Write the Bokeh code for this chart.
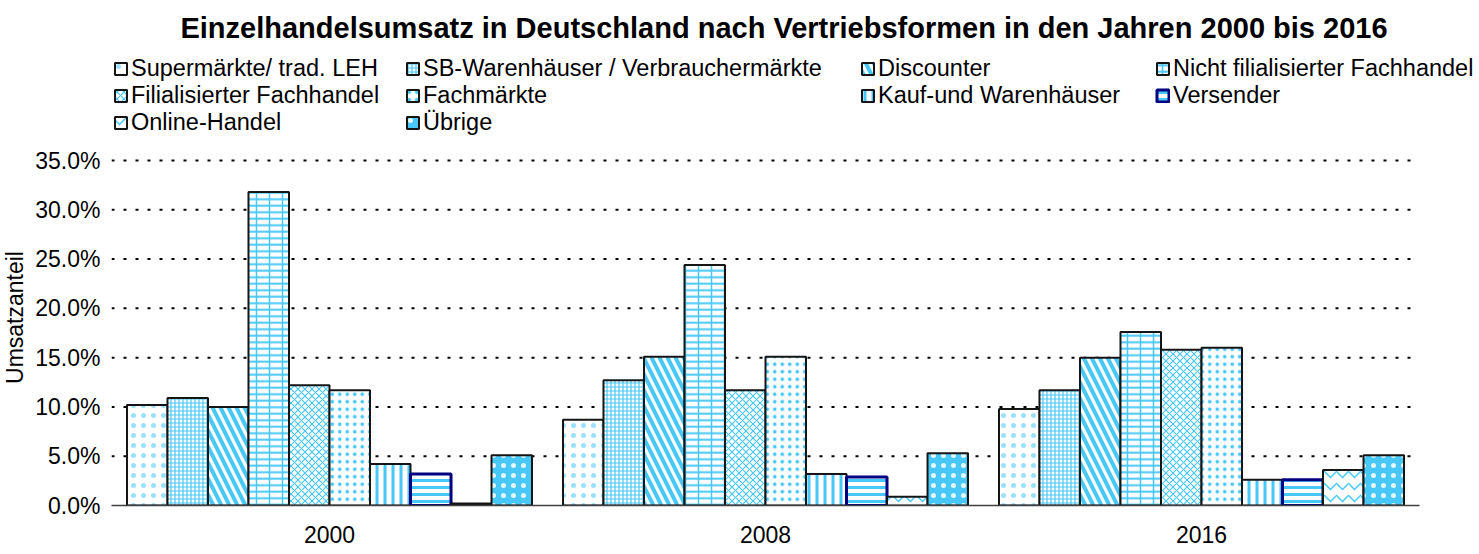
import math
from bokeh.plotting import figure
from bokeh.layouts import row
from bokeh.models import (Range1d, Legend, LegendItem, Label, NumeralTickFormatter,
                          FixedTicker, ColumnDataSource)
from bokeh.transform import dodge
from bokeh.embed import file_html
from bokeh.resources import INLINE

# ---------------- data ----------------
years = ["2000", "2008", "2016"]
series_names = [
    "Supermärkte/ trad. LEH",
    "SB-Warenhäuser / Verbrauchermärkte",
    "Discounter",
    "Nicht filialisierter Fachhandel",
    "Filialisierter Fachhandel",
    "Fachmärkte",
    "Kauf-und Warenhäuser",
    "Versender",
    "Online-Handel",
    "Übrige",
]
supermaerkte = [0.102, 0.087, 0.098]
sb_warenhaeuser = [0.109, 0.127, 0.117]
discounter = [0.100, 0.151, 0.150]
nicht_filialisiert = [0.318, 0.244, 0.176]
filialisiert = [0.122, 0.117, 0.158]
fachmaerkte = [0.117, 0.151, 0.160]
kauf_warenhaeuser = [0.042, 0.032, 0.026]
versender = [0.032, 0.029, 0.026]
online_handel = [0.002, 0.009, 0.036]
uebrige = [0.051, 0.053, 0.051]
y_ticks = [0.0, 0.05, 0.10, 0.15, 0.20, 0.25, 0.30, 0.35]
title_text = "Einzelhandelsumsatz in Deutschland nach Vertriebsformen in den Jahren 2000 bis 2016"
y_label = "Umsatzanteil"

all_values = [supermaerkte, sb_warenhaeuser, discounter, nicht_filialisiert,
              filialisiert, fachmaerkte, kauf_warenhaeuser, versender,
              online_handel, uebrige]

# ---------------- styling ----------------
BLUE = "#48C7F9"
FONT = "Liberation Sans"
styles = [
    dict(fill_color="white", hatch_pattern=".", hatch_scale=10, hatch_alpha=0.55, hatch_color=BLUE),
    dict(fill_color="white", hatch_pattern="+", hatch_scale=4, hatch_weight=1.2, hatch_color=BLUE),
    dict(fill_color="white", hatch_pattern="\\", hatch_scale=16, hatch_weight=4, hatch_color=BLUE),
    dict(fill_color="white", hatch_pattern="-", hatch_scale=6.5, hatch_weight=2, hatch_color=BLUE),
    dict(fill_color="white", hatch_pattern="x", hatch_scale=7, hatch_weight=1.2, hatch_color=BLUE),
    dict(fill_color="white", hatch_pattern=".", hatch_scale=7.5, hatch_color=BLUE),
    dict(fill_color="white", hatch_pattern="|", hatch_scale=8, hatch_weight=3, hatch_color=BLUE),
    dict(fill_color="white", hatch_pattern="-", hatch_scale=7, hatch_weight=3, hatch_color=BLUE),
    dict(fill_color="white", hatch_pattern="v", hatch_scale=12, hatch_weight=1.5, hatch_color=BLUE),
    dict(fill_color=BLUE, hatch_pattern=".", hatch_scale=10, hatch_alpha=0.85, hatch_color="white"),
]

# ---------------- geometry ----------------
PAGE_W, PAGE_H = 1479, 554
LW = 28                                  # width of the strip holding the y label
W = PAGE_W - LW
FL, FT, FB = 111 - LW, 4, 505            # frame edges (px, main figure coords)
FR = W
TOP35 = 160
PX_PER_CAT = 436
y_end = 0.35 * (FB - FT) / (FB - TOP35)
x_end = (FR - FL) / PX_PER_CAT

p = figure(x_range=Range1d(0, x_end), y_range=Range1d(0, y_end),
           width=W, height=PAGE_H, output_backend="svg", toolbar_location=None,
           min_border_left=FL, min_border_right=0,
           min_border_top=FT, min_border_bottom=PAGE_H - FB)
p.title.visible = False
p.outline_line_color = None
p.background_fill_color = "white"
p.border_fill_color = "white"
p.grid.visible = False

# category centres derived from the category list
x_centres = [i + 0.5 for i in range(len(years))]

# dotted horizontal gridlines spanning the category area
grid_y = [t for t in y_ticks if t > 0]
grid_src = ColumnDataSource(dict(y=grid_y, x0=[0] * len(grid_y),
                                 x1=[len(years)] * len(grid_y)))
p.segment(x0="x0", x1="x1", y0="y", y1="y", source=grid_src,
          line_color="black", line_width=2, line_dash="3 9")

p.yaxis.ticker = FixedTicker(ticks=y_ticks)
p.yaxis.formatter = NumeralTickFormatter(format="0.0%")
p.yaxis.axis_line_color = None
p.yaxis.major_tick_line_color = None
p.yaxis.minor_tick_line_color = None
p.yaxis.major_tick_out = 0
p.yaxis.major_label_standoff = 11
p.yaxis.major_label_text_font = FONT
p.yaxis.major_label_text_font_size = "23px"
p.yaxis.major_label_text_color = "black"

p.xaxis.ticker = FixedTicker(ticks=x_centres)
p.xaxis.major_label_overrides = {c: y for c, y in zip(x_centres, years)}
p.xaxis.bounds = (0, len(years))
p.xaxis.axis_line_color = "#404040"
p.xaxis.axis_line_width = 1.5
p.xaxis.major_tick_line_color = None
p.xaxis.minor_tick_line_color = None
p.xaxis.major_tick_out = 0
p.xaxis.major_label_standoff = 20
p.xaxis.major_label_text_font = FONT
p.xaxis.major_label_text_font_size = "23px"
p.xaxis.major_label_text_color = "black"

n = len(series_names)
bar_w = 0.0929
renderers = []
for i, (name, vals, st) in enumerate(zip(series_names, all_values, styles)):
    src = ColumnDataSource(dict(x=x_centres, value=vals))
    off = (i - (n - 1) / 2) * bar_w
    line_color = "#000080" if name == "Versender" else "#151515"
    line_width = 3 if name == "Versender" else 2
    rs = []
    if name == "Nicht filialisierter Fachhandel":
        # brick-like look: dense horizontal courses plus vertical joints
        rs.append(p.vbar(x=dodge("x", off), top="value", width=bar_w, source=src,
                         line_color=None, **st))
        rs.append(p.vbar(x=dodge("x", off), top="value", width=bar_w, source=src,
                         fill_color=None, hatch_pattern="|", hatch_scale=13,
                         hatch_weight=1.5, hatch_color=BLUE,
                         line_color=line_color, line_width=line_width))
    else:
        rs.append(p.vbar(x=dodge("x", off), top="value", width=bar_w, source=src,
                         line_color=line_color, line_width=line_width, **st))
    renderers.append(rs)

# ---------------- legends (4 columns) ----------------
col_members = [[0, 4, 8], [1, 5, 9], [2, 6], [3, 7]]
col_x = [113, 405, 860, 1155]          # page px of the legend glyphs
ROW_H = 27
LEG_TOP = 54.5
for members, cx in zip(col_members, col_x):
    items = [LegendItem(label=series_names[k], renderers=renderers[k]) for k in members]
    leg_h = ROW_H * len(members)
    vy = FB - (LEG_TOP + leg_h)
    leg = Legend(items=items, location=(cx - 111, vy), orientation="vertical",
                 padding=0, margin=0, spacing=0, label_height=ROW_H,
                 glyph_height=15, glyph_width=15, label_standoff=3,
                 label_text_font=FONT, label_text_font_size="23.5px",
                 label_text_color="black", border_line_color=None,
                 background_fill_alpha=0)
    p.add_layout(leg, "center")

# ---------------- title ----------------
p.add_layout(Label(x=783.5 - 111, y=FB - 27, x_units="screen", y_units="screen",
                   text=title_text, text_align="center", text_baseline="alphabetic",
                   text_font=FONT, text_font_style="bold", text_font_size="29px",
                   text_color="black"))

# ---------------- y-axis title strip ----------------
q = figure(width=LW, height=PAGE_H, output_backend="svg", toolbar_location=None,
           x_axis_location=None, y_axis_location=None,
           x_range=Range1d(0, 1), y_range=Range1d(0, 1),
           min_border=0)
q.title.visible = False
q.outline_line_color = None
q.grid.visible = False
q.add_layout(Label(x=14, y=FB - 317, x_units="screen", y_units="screen",
                   text=y_label, text_align="center", text_baseline="middle",
                   angle=math.pi / 2, text_font=FONT, text_font_size="23px",
                   text_color="black"))

layout = row(q, p, spacing=0)
open("out.html", "w").write(file_html(layout, INLINE))
